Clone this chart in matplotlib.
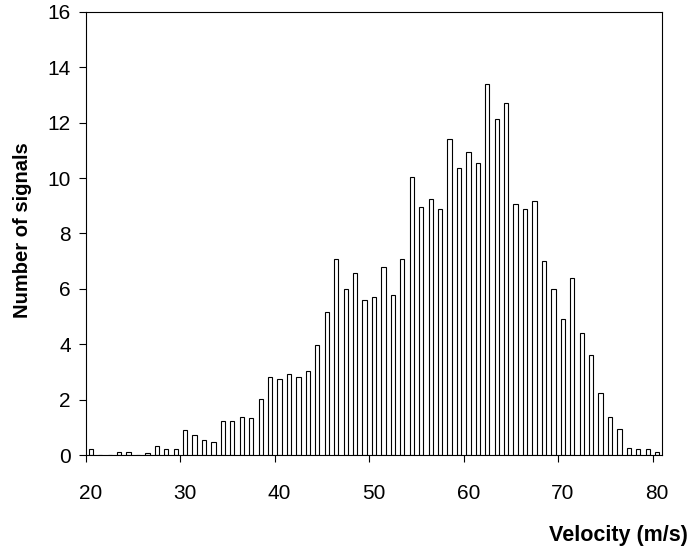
import numpy as np
import matplotlib
matplotlib.use("Agg")
import matplotlib.pyplot as plt
import matplotlib.transforms as mtransforms

plt.rcParams['font.family'] = ['Liberation Sans', 'DejaVu Sans']

# velocity bin centres (m/s) and number of signals per bin
velocity = [20.5, 21.5, 22.5, 23.5, 24.5, 25.5, 26.5, 27.5, 28.5, 29.5,
            30.5, 31.5, 32.5, 33.5, 34.5, 35.5, 36.5, 37.5, 38.5, 39.5,
            40.5, 41.5, 42.5, 43.5, 44.5, 45.5, 46.5, 47.5, 48.5, 49.5,
            50.5, 51.5, 52.5, 53.5, 54.5, 55.5, 56.5, 57.5, 58.5, 59.5,
            60.5, 61.5, 62.5, 63.5, 64.5, 65.5, 66.5, 67.5, 68.5, 69.5,
            70.5, 71.5, 72.5, 73.5, 74.5, 75.5, 76.5, 77.5, 78.5, 79.5,
            80.5]
signals = [0.20, 0.0, 0.0, 0.12, 0.12, 0.0, 0.07, 0.32, 0.20, 0.23,
           0.89, 0.71, 0.53, 0.47, 1.24, 1.24, 1.36, 1.32, 2.02, 2.83,
           2.76, 2.93, 2.83, 3.05, 3.97, 5.16, 7.08, 5.98, 6.58, 5.61,
           5.72, 6.78, 5.79, 7.07, 10.05, 8.95, 9.24, 8.90, 11.40, 10.35,
           10.93, 10.55, 13.41, 12.13, 12.70, 9.05, 8.87, 9.18, 7.02, 6.00,
           4.90, 6.39, 4.39, 3.60, 2.25, 1.36, 0.95, 0.26, 0.20, 0.20,
           0.11]
x_ticks = [20, 30, 40, 50, 60, 70, 80]
y_ticks = [0, 2, 4, 6, 8, 10, 12, 14, 16]

fig = plt.figure(figsize=(6.96, 5.52), dpi=100)
ax = fig.add_axes([0.1236, 0.1757, 0.9511 - 0.1236, 0.9783 - 0.1757])

ax.bar(velocity, signals, width=0.45, color="white", edgecolor="black", linewidth=0.8)

ax.set_xlim(20, 81)
ax.set_ylim(0, 16)
ax.set_xticks(x_ticks)
ax.set_yticks(y_ticks)
ax.tick_params(axis='both', direction='out', length=5, width=0.8, labelsize=15)
ax.tick_params(axis='x', pad=16)
ax.tick_params(axis='y', pad=6)
for s in ax.spines.values():
  s.set_linewidth(0.8)

#tick labels in the original sit a little right of their ticks
offset = mtransforms.ScaledTranslation(4.5 / 100, 0, fig.dpi_scale_trans)
for lab in ax.get_xticklabels():
  lab.set_transform(lab.get_transform() + offset)

fig.text(22 / 696, 1 - 230 / 552, "Number of signals", rotation=90,
         ha="center", va="center", fontsize=14.5, fontweight="bold")
fig.text(688 / 696, 1 - 536 / 552, "Velocity (m/s)", ha="right", va="center",
         fontsize=15.5, fontweight="bold")

fig.savefig("out.png", dpi=100)
